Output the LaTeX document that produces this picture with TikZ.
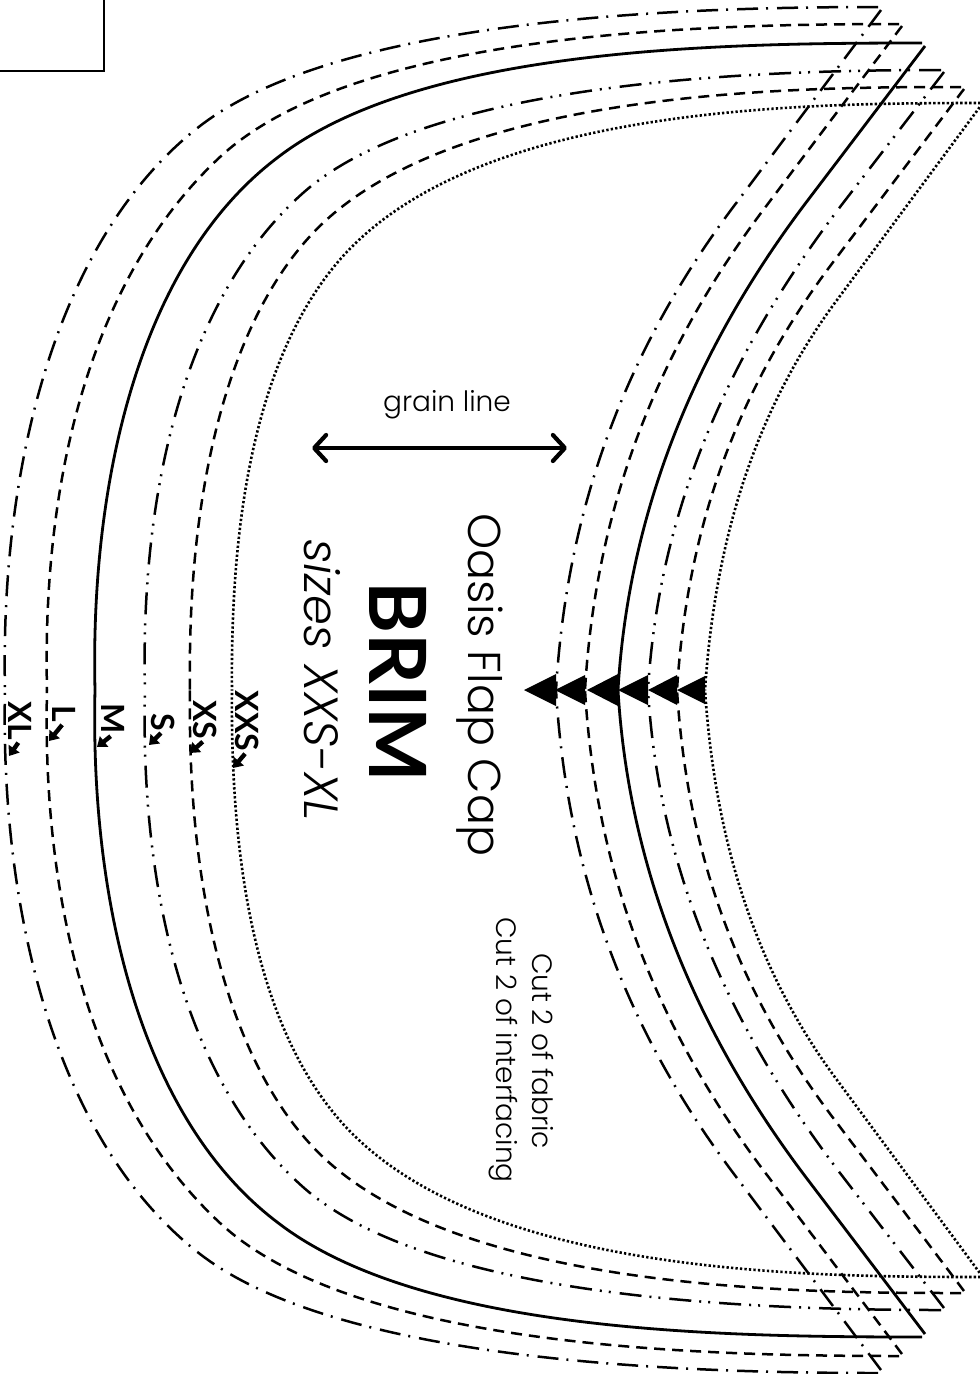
\documentclass[tikz,border=0pt]{standalone}
\usepackage{fontspec}
\usetikzlibrary{arrows.meta}
\setmainfont{Poppins Light}[ItalicFont=Poppins Light Italic]
\newfontfamily\boldlabel{Lato Bold}
\newcommand{\brimhalf}{
\draw[xlline] (878,7) .. controls (680,7) and (340,18) .. (200,126) .. controls (55,238) and (0,470) .. (5,690);
\draw[lline] (899,24) .. controls (700,24) and (355,32) .. (220,157) .. controls (90,278) and (42,480) .. (47,690);
\draw[mline] (922,43) .. controls (720,43) and (420,47) .. (277,158) .. controls (140,262) and (90,480) .. (95,690);
\draw[sline] (941,70) .. controls (760,70) and (430,80) .. (303,193) .. controls (185,298) and (140,490) .. (145,690);
\draw[xsline] (961,87) .. controls (800,87) and (450,88) .. (313,233) .. controls (228,323) and (187,490) .. (190,690);
\draw[xxsline] (985,103) .. controls (800,103) and (470,105) .. (337,263) .. controls (262,352) and (230,500) .. (232,690);

\draw[xlline] (881,10) -- (737,202) .. controls (619,357) and (566,520) .. (556,690);
\draw[lline] (902,26) -- (767,205) .. controls (649,360) and (595,520) .. (585,690);
\draw[mline] (925,46) -- (808,200) .. controls (690,355) and (628,520) .. (618,690);
\draw[sline] (944,72) -- (840,207) .. controls (722,362) and (658,520) .. (648,690);
\draw[xsline] (964,89) -- (837,257) .. controls (735,390) and (687,530) .. (677,690);
\draw[xxsline] (985,100) -- (837,300) .. controls (755,410) and (715,540) .. (705,690);
}
\tikzset{
  xlline/.style={line width=2.5pt,dash pattern=on 21pt off 9pt on 2pt off 8pt},
  lline/.style={line width=2.5pt,dash pattern=on 11pt off 7pt},
  mline/.style={line width=2.8pt},
  sline/.style={line width=2.5pt,dash pattern=on 22pt off 9pt on 2pt off 7pt on 2pt off 8pt},
  xsline/.style={line width=2.5pt,dash pattern=on 11pt off 7pt},
  xxsline/.style={line width=2.6pt,dash pattern=on 2.3pt off 2.2pt},
  sizelabel/.style={rotate=-90,inner sep=0pt,font=\fontsize{32}{34}\selectfont\boldlabel},
  sizearrow/.style={line width=4.4pt,-{Triangle[length=9pt,width=13pt]},shorten <=3pt},
  toptext/.style={rotate=-90,inner sep=0pt}
}
\begin{document}
\begin{tikzpicture}[x=1pt,y=-1pt]
\useasboundingbox (0,0) rectangle (980,1374);
\clip (0,0) rectangle (980,1374);

\brimhalf
\begin{scope}[shift={(0,1380)},yscale=-1]
\brimhalf
\end{scope}

\foreach \tip/\base/\half in {524/556/16,555/585/15,587/618/16,618/648/15,648/677/15,677/705/14}
  \fill (\tip,690) -- (\base,690-\half) -- (\base,690+\half) -- cycle;

\draw[line width=2.2pt] (0,71) -- (104,71) -- (104,0);

\coordinate (grainleft) at (312,448);
\coordinate (grainright) at (567,448);
\draw[line width=4.2pt,{Straight Barb[round,length=12pt,width=26pt]}-{Straight Barb[round,length=12pt,width=26pt]}] (grainleft) -- (grainright);
\node[inner sep=0pt,font=\fontsize{28}{30}\selectfont] (grain) at (447,405) {grain line};

\node[toptext,font=\fontsize{46}{48}\selectfont] (title) at (480,685) {Oasis Flap Cap};
\node[toptext,font=\fontsize{79}{81}\selectfont\boldlabel] (brim) at (398,682) {BRIM};
\node[toptext,font=\fontsize{48}{50}\selectfont\itshape] (sizes) at (322,680) {sizes XXS-XL};
\node[toptext,font=\fontsize{28}{30}\selectfont] (fabric) at (543,1051) {Cut 2 of fabric};
\node[toptext,font=\fontsize{28}{30}\selectfont] (interfacing) at (503,1050) {Cut 2 of interfacing};

\node[sizelabel] (labelxxs) at (247,721) {XXS};
\node[sizelabel] (labelxs) at (205,720) {XS};
\node[sizelabel] (labels) at (163,722) {S};
\node[sizelabel] (labelm) at (113,719) {M};
\node[sizelabel] (labell) at (64,714) {L};
\node[sizelabel] (labelxl) at (20,721) {XL};

\coordinate (pointxxs) at (233,768);
\coordinate (pointxs) at (190,753);
\coordinate (points) at (149,745);
\coordinate (pointm) at (97,747);
\coordinate (pointl) at (49,741);
\coordinate (pointxl) at (9,756);

\draw[sizearrow] (labelxxs.east) -- (pointxxs);
\draw[sizearrow] (labelxs.east) -- (pointxs);
\draw[sizearrow] (labels.east) -- (points);
\draw[sizearrow] (labelm.east) -- (pointm);
\draw[sizearrow] (labell.east) -- (pointl);
\draw[sizearrow] (labelxl.east) -- (pointxl);
\end{tikzpicture}
\end{document}
